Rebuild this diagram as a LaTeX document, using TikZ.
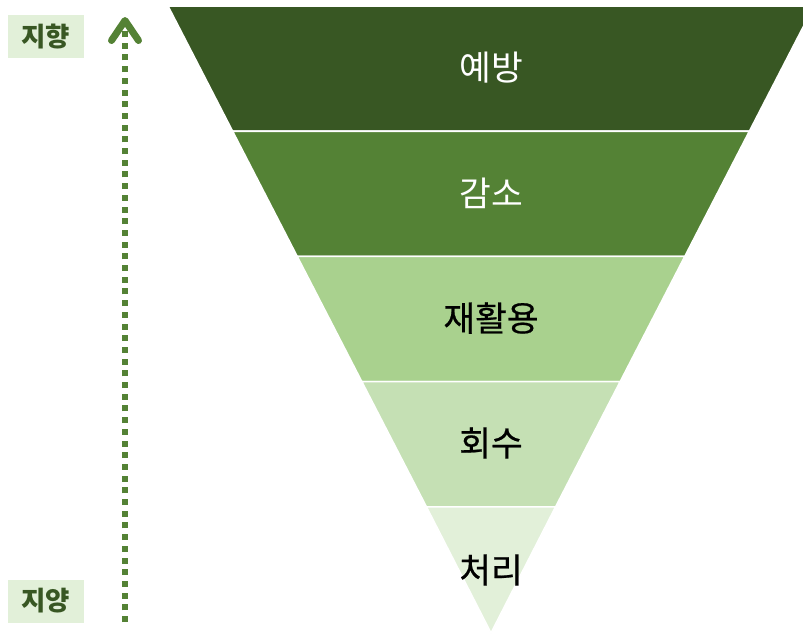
\documentclass[tikz,border=0pt]{standalone}
\usepackage{fontspec}
\newfontfamily\kr{Noto Sans CJK KR}
\newfontfamily\krmed[FakeBold=0.6]{Noto Sans CJK KR}
\usetikzlibrary{arrows.meta}
\definecolor{gA}{HTML}{385723}
\definecolor{gB}{HTML}{548235}
\definecolor{gC}{HTML}{A9D18E}
\definecolor{gD}{HTML}{C5E0B4}
\definecolor{gE}{HTML}{E2F0D9}
\tikzset{
  band/.style={draw=white, line width=1.6pt, line join=miter},
  bandtext/.style={font=\kr\fontsize{34.5}{40}\selectfont, inner sep=0pt},
  darktext/.style={font=\krmed\fontsize{34.5}{40}\selectfont, inner sep=0pt, text=black},
  sidelabel/.style={fill=gE, text=gA, font=\kr\bfseries\fontsize{26.5}{30}\selectfont,
    minimum width=76pt, minimum height=43pt, inner sep=0pt},
  trend/.style={draw=gB, line width=6pt, dash pattern=on 6pt off 5.7pt,
    -{Straight Barb[length=20pt, width=27pt, line width=7pt, round]}}
}
\begin{document}
\begin{tikzpicture}[x=1pt, y=-1pt]
\useasboundingbox (0,0) rectangle (803,633);
\begin{scope}
\clip (0,0) rectangle (803,633);
\fill[white] (0,0) rectangle (803,633);
\filldraw[band, fill=gA] (168,6) -- (814,6) -- (749.4,131.2) -- (232.6,131.2) -- cycle;
\filldraw[band, fill=gB] (232.6,131.2) -- (749.4,131.2) -- (684.8,256.4) -- (297.2,256.4) -- cycle;
\filldraw[band, fill=gC] (297.2,256.4) -- (684.8,256.4) -- (620.2,381.6) -- (361.8,381.6) -- cycle;
\filldraw[band, fill=gD] (361.8,381.6) -- (620.2,381.6) -- (555.6,506.8) -- (426.4,506.8) -- cycle;
\filldraw[band, fill=gE] (426.4,506.8) -- (555.6,506.8) -- (491,633) -- cycle;
\end{scope}
\node[bandtext, text=white] (t1) at (491,68) {예방};
\node[bandtext, text=white] (t2) at (491,193) {감소};
\node[darktext] (t3) at (491,318) {재활용};
\node[darktext] (t4) at (491,443) {회수};
\node[darktext] (t5) at (491,570) {처리};
\node[sidelabel] (top) at (45.5,36.5) {지향};
\node[sidelabel] (bot) at (45.5,601) {지양};
\coordinate (abot) at (125,622);
\coordinate (atop) at (125,17);
\draw[trend] (abot) -- (atop);
\end{tikzpicture}
\end{document}
